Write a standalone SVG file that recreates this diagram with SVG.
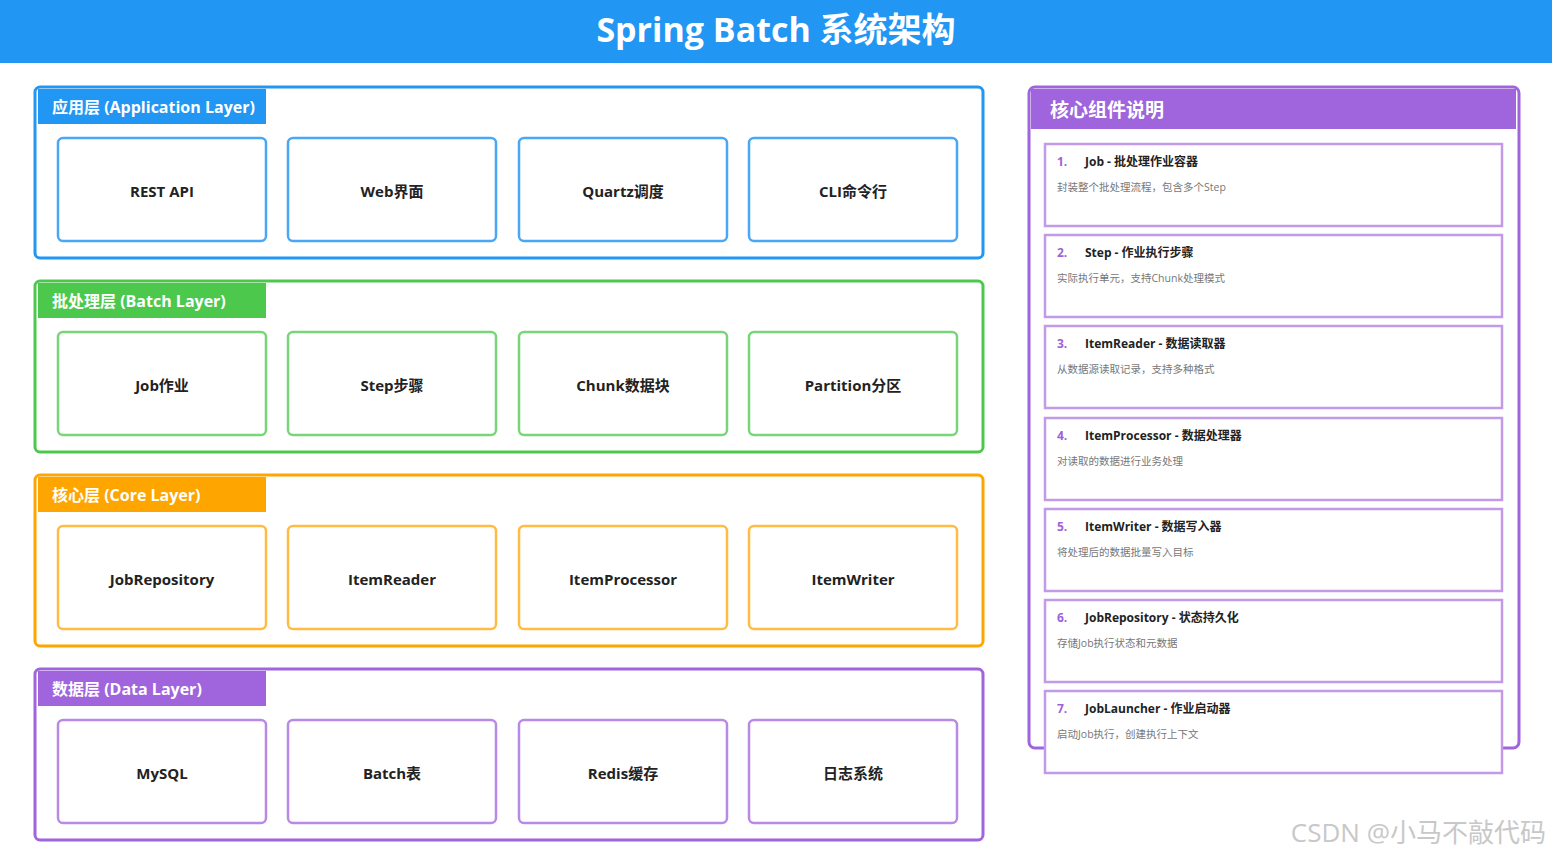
<svg xmlns="http://www.w3.org/2000/svg" width="1552" height="860" viewBox="0 0 1552 860">
<style>
text{font-family:"Open Sans","Noto Sans CJK SC",sans-serif}
.layer{fill:#fff;stroke-width:3}
.tab{font-size:16px;font-weight:bold;fill:#fff}
.node{fill:#fff;stroke-width:2.5}
.nt{font-size:15px;font-weight:bold;fill:#222;text-anchor:middle}
.card{fill:#fff;stroke:#c39ae8;stroke-width:2.5}
.num{font-size:12px;font-weight:bold;fill:#9c62dc}
.ct{font-size:12px;font-weight:bold;fill:#222}
.cd{font-size:10.5px;fill:#777}
</style>
<rect width="1552" height="860" fill="#fff"/>
<rect width="1552" height="63" fill="#2196f3"/>
<text x="776" y="42" text-anchor="middle" font-size="34" font-weight="bold" fill="#fff">Spring Batch 系统架构</text>

<g id="app-layer">
<rect class="layer" x="35" y="87" width="948" height="171" rx="5" stroke="#2196f3"/>
<rect x="38" y="89" width="228" height="35" fill="#2196f3"/>
<text class="tab" x="52" y="113">应用层 (Application Layer)</text>
</g>
<g id="rest"><rect class="node" x="58" y="138" width="208" height="103" rx="5" stroke="#4aa7f5"/><text class="nt" x="162" y="197">REST API</text></g>
<g id="web"><rect class="node" x="288" y="138" width="208" height="103" rx="5" stroke="#4aa7f5"/><text class="nt" x="392" y="197">Web界面</text></g>
<g id="quartz"><rect class="node" x="519" y="138" width="208" height="103" rx="5" stroke="#4aa7f5"/><text class="nt" x="623" y="197">Quartz调度</text></g>
<g id="cli"><rect class="node" x="749" y="138" width="208" height="103" rx="5" stroke="#4aa7f5"/><text class="nt" x="853" y="197">CLI命令行</text></g>

<g id="batch-layer">
<rect class="layer" x="35" y="281" width="948" height="171" rx="5" stroke="#4cc94c"/>
<rect x="38" y="283" width="228" height="35" fill="#4cc94c"/>
<text class="tab" x="52" y="307">批处理层 (Batch Layer)</text>
</g>
<g id="job"><rect class="node" x="58" y="332" width="208" height="103" rx="5" stroke="#78d678"/><text class="nt" x="162" y="391">Job作业</text></g>
<g id="step"><rect class="node" x="288" y="332" width="208" height="103" rx="5" stroke="#78d678"/><text class="nt" x="392" y="391">Step步骤</text></g>
<g id="chunk"><rect class="node" x="519" y="332" width="208" height="103" rx="5" stroke="#78d678"/><text class="nt" x="623" y="391">Chunk数据块</text></g>
<g id="partition"><rect class="node" x="749" y="332" width="208" height="103" rx="5" stroke="#78d678"/><text class="nt" x="853" y="391">Partition分区</text></g>

<g id="core-layer">
<rect class="layer" x="35" y="475" width="948" height="171" rx="5" stroke="#ffa500"/>
<rect x="38" y="477" width="228" height="35" fill="#ffa500"/>
<text class="tab" x="52" y="501">核心层 (Core Layer)</text>
</g>
<g id="jobrepo"><rect class="node" x="58" y="526" width="208" height="103" rx="5" stroke="#ffbb44"/><text class="nt" x="162" y="585">JobRepository</text></g>
<g id="reader"><rect class="node" x="288" y="526" width="208" height="103" rx="5" stroke="#ffbb44"/><text class="nt" x="392" y="585">ItemReader</text></g>
<g id="processor"><rect class="node" x="519" y="526" width="208" height="103" rx="5" stroke="#ffbb44"/><text class="nt" x="623" y="585">ItemProcessor</text></g>
<g id="writer"><rect class="node" x="749" y="526" width="208" height="103" rx="5" stroke="#ffbb44"/><text class="nt" x="853" y="585">ItemWriter</text></g>

<g id="data-layer">
<rect class="layer" x="35" y="669" width="948" height="171" rx="5" stroke="#a064dc"/>
<rect x="38" y="671" width="228" height="35" fill="#a064dc"/>
<text class="tab" x="52" y="695">数据层 (Data Layer)</text>
</g>
<g id="mysql"><rect class="node" x="58" y="720" width="208" height="103" rx="5" stroke="#b88ae6"/><text class="nt" x="162" y="779">MySQL</text></g>
<g id="batchtable"><rect class="node" x="288" y="720" width="208" height="103" rx="5" stroke="#b88ae6"/><text class="nt" x="392" y="779">Batch表</text></g>
<g id="redis"><rect class="node" x="519" y="720" width="208" height="103" rx="5" stroke="#b88ae6"/><text class="nt" x="623" y="779">Redis缓存</text></g>
<g id="log"><rect class="node" x="749" y="720" width="208" height="103" rx="5" stroke="#b88ae6"/><text class="nt" x="853" y="779">日志系统</text></g>

<g id="panel">
<rect x="1029" y="87" width="490" height="661" rx="6" fill="#fff" stroke="#a064dc" stroke-width="3"/>
<rect x="1031" y="89" width="485" height="40" fill="#a064dc"/>
<text x="1050" y="117" font-size="19" font-weight="bold" fill="#fff">核心组件说明</text>
</g>
<g id="c1"><rect class="card" x="1045" y="144" width="457" height="82"/><text class="num" x="1057" y="166">1.</text><text class="ct" x="1085" y="166">Job - 批处理作业容器</text><text class="cd" x="1057" y="191">封装整个批处理流程，包含多个Step</text></g>
<g id="c2"><rect class="card" x="1045" y="235" width="457" height="82"/><text class="num" x="1057" y="257">2.</text><text class="ct" x="1085" y="257">Step - 作业执行步骤</text><text class="cd" x="1057" y="282">实际执行单元，支持Chunk处理模式</text></g>
<g id="c3"><rect class="card" x="1045" y="326" width="457" height="82"/><text class="num" x="1057" y="348">3.</text><text class="ct" x="1085" y="348">ItemReader - 数据读取器</text><text class="cd" x="1057" y="373">从数据源读取记录，支持多种格式</text></g>
<g id="c4"><rect class="card" x="1045" y="418" width="457" height="82"/><text class="num" x="1057" y="440">4.</text><text class="ct" x="1085" y="440">ItemProcessor - 数据处理器</text><text class="cd" x="1057" y="465">对读取的数据进行业务处理</text></g>
<g id="c5"><rect class="card" x="1045" y="509" width="457" height="82"/><text class="num" x="1057" y="531">5.</text><text class="ct" x="1085" y="531">ItemWriter - 数据写入器</text><text class="cd" x="1057" y="556">将处理后的数据批量写入目标</text></g>
<g id="c6"><rect class="card" x="1045" y="600" width="457" height="82"/><text class="num" x="1057" y="622">6.</text><text class="ct" x="1085" y="622">JobRepository - 状态持久化</text><text class="cd" x="1057" y="647">存储Job执行状态和元数据</text></g>
<g id="c7"><rect class="card" x="1045" y="691" width="457" height="82"/><text class="num" x="1057" y="713">7.</text><text class="ct" x="1085" y="713">JobLauncher - 作业启动器</text><text class="cd" x="1057" y="738">启动Job执行，创建执行上下文</text></g>

<g id="connectors"></g>
<text x="1546" y="842" text-anchor="end" font-size="26" fill="#c8c8c8">CSDN @小马不敲代码</text>
</svg>
